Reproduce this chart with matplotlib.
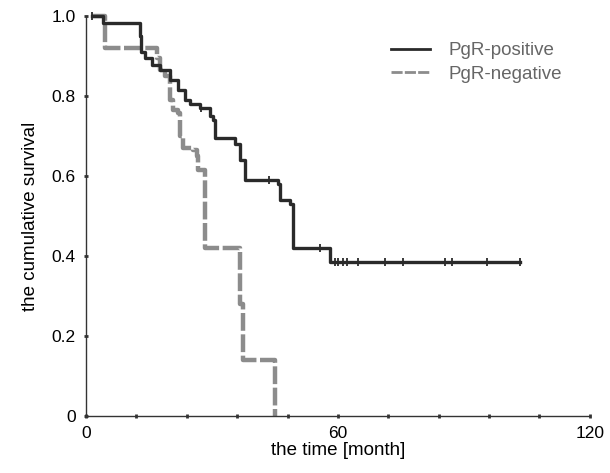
import numpy as np
import matplotlib.pyplot as plt
from matplotlib.ticker import FixedLocator, MultipleLocator

plt.rcParams["font.family"] = ["Liberation Sans", "DejaVu Sans"]

# Kaplan-Meier step points (time in months, cumulative survival)
pos_time = [1.5, 4, 12.8, 13.2, 14, 15.7, 17.6, 20, 21.9, 23.6, 24.8, 27.1,
            29.5, 30.2, 30.7, 35.5, 36.7, 37.9, 45.7, 46.2, 48.6, 49.3, 58.1, 103.3]
pos_surv = [1.0, 0.983, 0.95, 0.91, 0.895, 0.877, 0.865, 0.84, 0.815, 0.79, 0.78, 0.77,
            0.75, 0.74, 0.695, 0.68, 0.64, 0.59, 0.58, 0.54, 0.53, 0.42, 0.385, 0.385]
pos_censored = [1.5, 27.5, 43.5, 55.7, 59.3, 60, 61.2, 62.1, 64.8, 71.2, 75.5,
                85.5, 87.1, 95.5, 103.3]

neg_time = [1.5, 4.5, 16.9, 17.6, 18.8, 20, 20.7, 21.9, 22.4, 23.1, 25.5, 26.4,
            26.7, 28.3, 36.7, 37.4, 45]
neg_surv = [1.0, 0.92, 0.895, 0.865, 0.85, 0.79, 0.765, 0.757, 0.70, 0.67, 0.665, 0.65,
            0.615, 0.42, 0.28, 0.14, 0.0]

x_ticks = [0, 60, 120]
y_ticks = [0, 0.2, 0.4, 0.6, 0.8, 1.0]
y_tick_labels = ["0", "0.2", "0.4", "0.6", "0.8", "1.0"]


def surv_at(times, surv, t):
    idx = np.searchsorted(times, t, side="right") - 1
    return surv[max(idx, 0)]


fig = plt.figure(figsize=(6.1, 4.73), dpi=100)
ax = fig.add_axes([0.141, 0.1205, 0.826, 0.8455])

ax.step(pos_time, pos_surv, where="post", color="#2a2a2a", lw=2.4,
        label="PgR-positive", clip_on=False, zorder=3)
ax.plot(pos_censored, [surv_at(pos_time, pos_surv, t) for t in pos_censored],
        ls="none", marker="|", ms=6, mew=1.3, color="#2a2a2a", clip_on=False, zorder=3)

ax.step(neg_time, neg_surv, where="post", color="#8c8c8c", lw=3.2,
        dashes=(4.0, 0.8), label="PgR-negative", clip_on=False, zorder=2)

ax.set_xlim(0, 120)
ax.set_ylim(0, 1)
ax.spines["top"].set_visible(False)
ax.spines["right"].set_visible(False)
for side in ("left", "bottom"):
    ax.spines[side].set_linewidth(1.0)
    ax.spines[side].set_color("#333333")

ax.xaxis.set_major_locator(FixedLocator(x_ticks))
ax.xaxis.set_minor_locator(MultipleLocator(12))
ax.set_yticks(y_ticks)
ax.set_yticklabels(y_tick_labels)
ax.tick_params(which="both", direction="inout", length=2.5, width=2, color="#333333",
               labelsize=12.5, pad=6)

ax.set_xlabel("the time [month]", fontsize=13.5, labelpad=1)
ax.set_ylabel("the cumulative survival", fontsize=13.5, labelpad=9)

leg = ax.legend(loc="upper right", bbox_to_anchor=(0.945, 0.935), frameon=False,
                fontsize=13.5, handlelength=2.1, handletextpad=1.0, labelspacing=0.35,
                borderpad=0, borderaxespad=0, labelcolor="#666666")
for line in leg.get_lines():
    line.set_linewidth(2.0)

fig.savefig("out.png", dpi=100)
